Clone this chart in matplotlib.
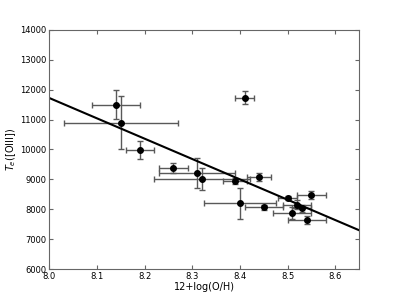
import numpy as np
import matplotlib
matplotlib.use("Agg")
import matplotlib.pyplot as plt

# 12+log(O/H) and Te([OIII]) with errors
oh = [8.14, 8.15, 8.19, 8.26, 8.31, 8.32, 8.39, 8.40, 8.41, 8.44, 8.45,
      8.50, 8.51, 8.52, 8.53, 8.54, 8.55]
oh_err = [0.05, 0.12, 0.03, 0.03, 0.08, 0.10, 0.025, 0.075, 0.02, 0.025, 0.04,
          0.02, 0.04, 0.03, 0.02, 0.04, 0.03]
te = [11500, 10900, 9970, 9370, 9200, 9010, 8950, 8200, 11730, 9090, 8065,
      8365, 7885, 8160, 8030, 7640, 8475]
te_err = [480, 900, 300, 170, 500, 370, 100, 520, 210, 140, 80,
          70, 200, 150, 120, 130, 140]

# linear fit Te = a*(12+log(O/H)) + b
fit = [-6800.0, 11720.0 + 6800.0 * 8.0]

fig = plt.figure(figsize=(3.99, 2.99), dpi=100)
ax = fig.add_axes([0.124, 0.1, 0.776, 0.8])

ax.errorbar(oh, te, xerr=oh_err, yerr=te_err, fmt='o', color='black',
            ecolor='0.35', elinewidth=1, capsize=2, capthick=1, markersize=4)

xx = np.array([8.0, 8.65])
ax.plot(xx, np.polyval(fit, xx), color='black', lw=1.5)

ax.set_xlim(8.0, 8.65)
ax.set_ylim(6000, 14000)
ax.set_xticks([8.0, 8.1, 8.2, 8.3, 8.4, 8.5, 8.6])
ax.set_yticks(np.arange(6000, 14001, 1000))
ax.tick_params(direction='in', top=True, right=True, labelsize=6, length=3,
               color='0.4', pad=2)
for s in ax.spines.values():
    s.set_color('0.4')
ax.set_xlabel('12+log(O/H)', fontsize=7, labelpad=1)
ax.set_ylabel(r'$T_e$([OIII])', fontsize=7, labelpad=2)

fig.savefig('out.png', dpi=100)
